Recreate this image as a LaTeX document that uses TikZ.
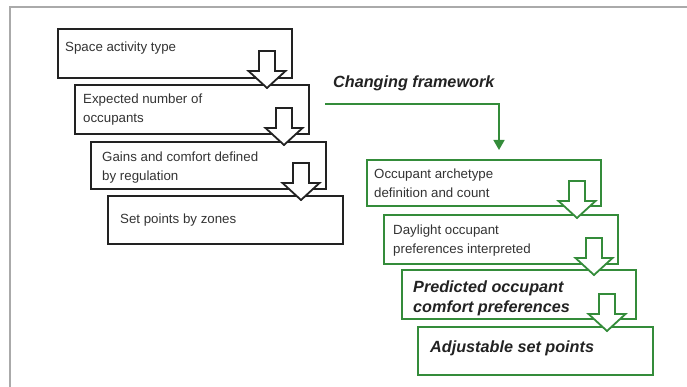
\documentclass[tikz,border=0pt]{standalone}
\usepackage{fontspec}
\setmainfont{Liberation Sans}
\usetikzlibrary{calc,arrows.meta}
\definecolor{framegreen}{RGB}{52,140,58}
\definecolor{boxblack}{RGB}{34,34,34}
\definecolor{txtgrey}{RGB}{51,51,51}
\definecolor{rulegrey}{RGB}{170,170,170}

\begin{document}
\begin{tikzpicture}[x=1pt,y=-1pt,
  stagebox/.style={draw=#1, line width=1.8pt, rectangle, inner sep=0pt, anchor=north west},
  plainlabel/.style={anchor=base west, inner sep=0pt, align=left, text=txtgrey,
    font=\fontsize{13.3}{19}\selectfont},
  boldlabel/.style={anchor=base west, inner sep=0pt, align=left, text=boxblack,
    font=\fontsize{16.2}{20}\selectfont\bfseries\itshape},
  pics/hollowdown/.style={code={
    \draw[pic actions, fill=white, line width=1.8pt, line join=miter]
      (-8,0) -- (8,0) -- (8,20) -- (18.5,20) -- (0,37) -- (-18.5,20) -- (-8,20) -- cycle;}}
]
\useasboundingbox (0,0) rectangle (687,387);

% page rule
\draw[rulegrey, line width=1.5pt] (687,7) -- (10,7) -- (10,387);

% conventional sequence
\node[stagebox=boxblack, minimum width=234pt, minimum height=49pt] (b1) at (57,28) {};
\node[stagebox=boxblack, minimum width=234pt, minimum height=49pt] (b2) at (74,84) {};
\node[stagebox=boxblack, minimum width=235pt, minimum height=47pt] (b3) at (90,141) {};
\node[stagebox=boxblack, minimum width=235pt, minimum height=48pt] (b4) at (107,195) {};

% labels are placed by the baseline of their last line
\node[plainlabel] (t1) at (65,52) {Space activity type};
\node[plainlabel] (t2) at (83,123) {Expected number of\\occupants};
\node[plainlabel] (t3) at (102,181) {Gains and comfort defined\\by regulation};
\node[plainlabel] (t4) at (120,223) {Set points by zones};

% changing framework sequence
\node[stagebox=framegreen, minimum width=234pt, minimum height=46pt] (g1) at (366,159) {};
\node[stagebox=framegreen, minimum width=234pt, minimum height=49pt] (g2) at (383,214) {};
\node[stagebox=framegreen, minimum width=234pt, minimum height=49pt] (g3) at (401,269) {};
\node[stagebox=framegreen, minimum width=235pt, minimum height=48pt] (g4) at (417,326) {};

\node[plainlabel] (u1) at (374,198) {Occupant archetype\\definition and count};
\node[plainlabel] (u2) at (393,253) {Daylight occupant\\preferences interpreted};
\node[boldlabel] (u3) at (413,312) {Predicted occupant\\comfort preferences};
\node[boldlabel] (u4) at (430,352) {Adjustable set points};

% step arrows
\pic[draw=boxblack] at (267,51) {hollowdown};
\pic[draw=boxblack] at (284,108) {hollowdown};
\pic[draw=boxblack] at (301,163) {hollowdown};
\pic[draw=framegreen] at (577,181) {hollowdown};
\pic[draw=framegreen] at (594,238) {hollowdown};
\pic[draw=framegreen] at (607,294) {hollowdown};

% branch to the new framework
\node[boldlabel, font=\fontsize{16.2}{18}\selectfont\bfseries\itshape] (cf) at (333,88) {Changing framework};
\coordinate (cfstart) at (325,104);
\coordinate (cfturn) at (499,104);
\draw[framegreen, line width=1.6pt, shorten >=9pt, -{Triangle[length=10pt,width=11pt]}]
  (cfstart) -- (cfturn) -- (cfturn |- g1.north);
\end{tikzpicture}
\end{document}
